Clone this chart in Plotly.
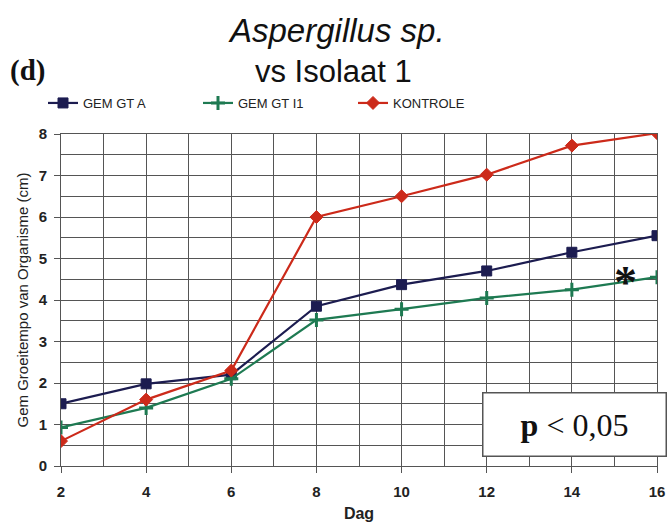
import plotly.graph_objects as go

dag = [2, 4, 6, 8, 10, 12, 14, 16]
gem_gt_a = [1.5, 1.98, 2.2, 3.85, 4.37, 4.7, 5.15, 5.55]
gem_gt_i1 = [0.93, 1.4, 2.1, 3.52, 3.78, 4.05, 4.25, 4.55]
kontrole = [0.6, 1.6, 2.3, 6.0, 6.5, 7.02, 7.72, 8.02]
x_ticks = [2, 4, 6, 8, 10, 12, 14, 16]
y_ticks = [0, 1, 2, 3, 4, 5, 6, 7, 8]

L, R, T, B = 61, 12, 134, 60
W, H = 669, 526
PW, PH = W - L - R, H - T - B


def px(x):
    return (x - L) / PW


def py(y):
    return (H - B - y) / PH


fig = go.Figure()
fig.add_trace(go.Scatter(
    x=dag, y=gem_gt_a, name="GEM GT A", mode="lines+markers",
    line=dict(color="#1c1c50", width=2.2),
    marker=dict(symbol="square", size=10, color="#1c1c50",
                line=dict(color="#1c1c50", width=1))))
fig.add_trace(go.Scatter(
    x=dag, y=gem_gt_i1, name="GEM GT I1", mode="lines+markers",
    line=dict(color="#1e7a52", width=2.2),
    marker=dict(symbol="cross-thin", size=10, color="#1e7a52",
                line=dict(color="#1e7a52", width=3))))
fig.add_trace(go.Scatter(
    x=dag, y=kontrole, name="KONTROLE", mode="lines+markers",
    line=dict(color="#cc2a1a", width=2.2),
    marker=dict(symbol="diamond", size=10, color="#cc2a1a",
                line=dict(color="#cc2a1a", width=1))))

fig.update_layout(
    width=W, height=H,
    margin=dict(l=L, r=R, t=T, b=B, autoexpand=False),
    paper_bgcolor="white", plot_bgcolor="white",
    font=dict(family="Liberation Sans, Arial, sans-serif", color="#222"),
    showlegend=True,
    legend=dict(orientation="h", x=px(43), xanchor="left",
                y=py(103), yanchor="middle",
                font=dict(size=13, family="Liberation Sans Narrow, Liberation Sans, Arial", color="#222"),
                entrywidth=110, entrywidthmode="pixels", bgcolor="rgba(0,0,0,0)"),
)
fig.update_xaxes(
    range=[2, 16], tickvals=x_ticks, ticktext=["<b>%d</b>" % v for v in x_ticks],
    showgrid=True, gridcolor="#555", gridwidth=1,
    minor=dict(dtick=1, showgrid=True, gridcolor="#555", gridwidth=1),
    ticks="outside", ticklen=6, tickcolor="#555", ticklabelstandoff=6,
    tickfont=dict(size=15, family="Liberation Sans", color="#222"),
    title=dict(text="<b>Dag</b>", font=dict(size=16, color="#222"), standoff=8),
    showline=True, linecolor="#555", mirror=True, zeroline=False,
)
fig.update_yaxes(
    range=[0, 8], tickvals=y_ticks, ticktext=["<b>%d</b>" % v for v in y_ticks],
    showgrid=True, gridcolor="#555", gridwidth=1,
    minor=dict(dtick=0.5, showgrid=True, gridcolor="#555", gridwidth=1),
    ticks="outside", ticklen=6, tickcolor="#555", ticklabelstandoff=4,
    tickfont=dict(size=15, family="Liberation Sans", color="#222"),
    title=dict(text="Gem Groeitempo van Organisme (cm)", font=dict(size=15, color="#222"), standoff=6),
    showline=True, linecolor="#555", mirror=True, zeroline=False,
)

fig.add_annotation(text="<i>Aspergillus sp.</i>", xref="paper", yref="paper",
                   x=px(336), y=py(30), yanchor="middle", showarrow=False,
                   font=dict(size=33, family="Liberation Sans", color="#111"))
fig.add_annotation(text="vs Isolaat 1", xref="paper", yref="paper",
                   x=px(333), y=py(72), yanchor="middle", showarrow=False,
                   font=dict(size=31, family="Liberation Sans", color="#111"))
fig.add_annotation(text="<b>(d)</b>", xref="paper", yref="paper",
                   x=px(8), xanchor="left", y=py(70), yanchor="middle", showarrow=False,
                   font=dict(size=29, family="Liberation Serif", color="#111"))
fig.add_annotation(text="<b>*</b>", x=15.25, y=4.42, xref="x", yref="y", showarrow=False,
                   yanchor="middle",
                   font=dict(size=46, family="Liberation Serif", color="#111"))
fig.add_annotation(text="<b>p</b> < 0,05", xref="paper", yref="paper",
                   x=px(574), y=py(424), showarrow=False,
                   xanchor="center", yanchor="middle",
                   font=dict(size=32, family="Liberation Serif", color="#111"),
                   bgcolor="white", bordercolor="#555", borderwidth=1.5,
                   width=180, height=60, align="center")

fig.write_html("out.html")
